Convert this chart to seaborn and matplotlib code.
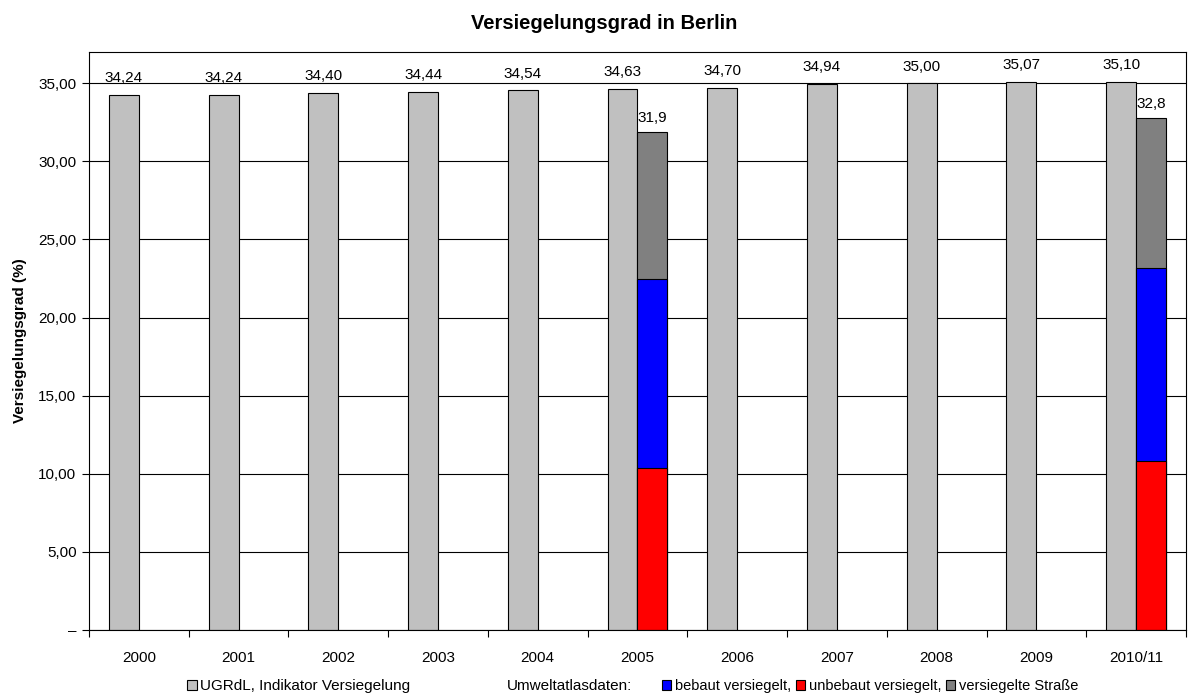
import matplotlib
matplotlib.use("Agg")
import matplotlib.pyplot as plt
import matplotlib.patches as mpatches
from matplotlib.ticker import FixedLocator, FuncFormatter
import seaborn as sns
import pandas as pd

# Daten
jahre = ['2000', '2001', '2002', '2003', '2004', '2005', '2006', '2007', '2008', '2009', '2010/11']
ugrdl = [34.24, 34.24, 34.40, 34.44, 34.54, 34.63, 34.70, 34.94, 35.00, 35.07, 35.10]

atlas_jahre = ['2005', '2010/11']
unbebaut = [10.4, 10.8]
bebaut = [12.1, 12.4]
strasse = [9.4, 9.6]
atlas_labels = ['31,9', '32,8']

sns.set_theme(style='white')
plt.rcParams['font.family'] = ['Liberation Sans', 'DejaVu Sans']
plt.rcParams['text.color'] = 'black'
plt.rcParams['axes.labelcolor'] = 'black'
plt.rcParams['xtick.color'] = 'black'
plt.rcParams['ytick.color'] = 'black'

df_ugr = pd.DataFrame({'Jahr': jahre, 'Reihe': 'UGRdL', 'Wert': ugrdl})
df_atlas = pd.DataFrame({'Jahr': atlas_jahre, 'Reihe': 'Atlas',
                         'unbebaut': unbebaut, 'bebaut': bebaut, 'strasse': strasse})
df_atlas['bis_bebaut'] = df_atlas['unbebaut'] + df_atlas['bebaut']
df_atlas['gesamt'] = df_atlas['bis_bebaut'] + df_atlas['strasse']

fig = plt.figure(figsize=(11.96, 6.98), dpi=100)
ax = fig.add_axes([0.0744, 0.0974, 0.9172, 0.8281])

hue_order = ['UGRdL', 'Atlas']
common = dict(x='Jahr', hue='Reihe', hue_order=hue_order, order=jahre, dodge=True,
              width=0.6, edgecolor='black', linewidth=0.8, legend=False, ax=ax,
              errorbar=None, saturation=1)

sns.barplot(data=df_ugr, y='Wert', palette={'UGRdL': '#C0C0C0', 'Atlas': '#808080'}, **common)
# gestapelte Balken: von hinten nach vorne
sns.barplot(data=df_atlas, y='gesamt', palette={'UGRdL': '#C0C0C0', 'Atlas': '#808080'}, **common)
sns.barplot(data=df_atlas, y='bis_bebaut', palette={'UGRdL': '#C0C0C0', 'Atlas': '#0000FF'}, **common)
sns.barplot(data=df_atlas, y='unbebaut', palette={'UGRdL': '#C0C0C0', 'Atlas': '#FF0000'}, **common)

fs = 11

# Wertebeschriftungen
for i, v in enumerate(ugrdl):
    ax.annotate(f'{v:.2f}'.replace('.', ','), (i - 0.15, v), xytext=(0, 7),
                textcoords='offset points', ha='center', va='bottom', fontsize=fs)
for j, jahr in enumerate(atlas_jahre):
    i = jahre.index(jahr)
    ax.annotate(atlas_labels[j], (i + 0.15, df_atlas['gesamt'][j]), xytext=(0, 5),
                textcoords='offset points', ha='center', va='bottom', fontsize=fs)

ax.set_ylim(0, 37)
ax.set_xlim(-0.5, len(jahre) - 0.5)
ax.yaxis.set_major_locator(FixedLocator([0, 5, 10, 15, 20, 25, 30, 35]))
ax.yaxis.set_major_formatter(FuncFormatter(
    lambda v, p: '–' if v == 0 else f'{v:.2f}'.replace('.', ',')))
ax.grid(axis='y', color='black', linewidth=0.8)
ax.set_axisbelow(True)
for s in ax.spines.values():
    s.set_color('black')
    s.set_linewidth(0.8)

ax.tick_params(axis='y', which='major', direction='out', length=5, width=0.8,
               labelsize=fs, pad=4, left=True)
ax.tick_params(axis='x', which='major', length=0, labelsize=fs, pad=15)
ax.xaxis.set_minor_locator(FixedLocator([k - 0.5 for k in range(len(jahre) + 1)]))
ax.tick_params(axis='x', which='minor', direction='out', length=5, width=0.8,
               bottom=True)
ax.set_xlabel('')
ax.set_ylabel('Versiegelungsgrad (%)', fontsize=11, fontweight='bold', labelpad=8)
fig.text(0.505, 0.958, 'Versiegelungsgrad in Berlin', fontsize=14.5, fontweight='bold',
         ha='center', va='baseline')

# Legende
h_ugr = [mpatches.Patch(facecolor='#C0C0C0', edgecolor='black', linewidth=0.8)]
fig.legend(h_ugr, ['UGRdL, Indikator Versiegelung'], loc='center left',
           bbox_to_anchor=(0.1564, 0.017), frameon=False, fontsize=fs,
           handlelength=0.65, handleheight=0.65, handletextpad=0.2, borderpad=0,
           borderaxespad=0)
fig.text(0.424, 0.017, 'Umweltatlasdaten:', fontsize=fs, va='center', ha='left')
h_atlas = [mpatches.Patch(facecolor=c, edgecolor='black', linewidth=0.8)
           for c in ['#0000FF', '#FF0000', '#808080']]
fig.legend(h_atlas, ['bebaut versiegelt,', 'unbebaut versiegelt,', 'versiegelte Straße'],
           loc='center left', bbox_to_anchor=(0.5535, 0.017), ncol=3, frameon=False,
           fontsize=10.5, handlelength=0.65, handleheight=0.65, handletextpad=0.25,
           columnspacing=0.3, borderpad=0, borderaxespad=0)

fig.savefig('out.png', dpi=100)
